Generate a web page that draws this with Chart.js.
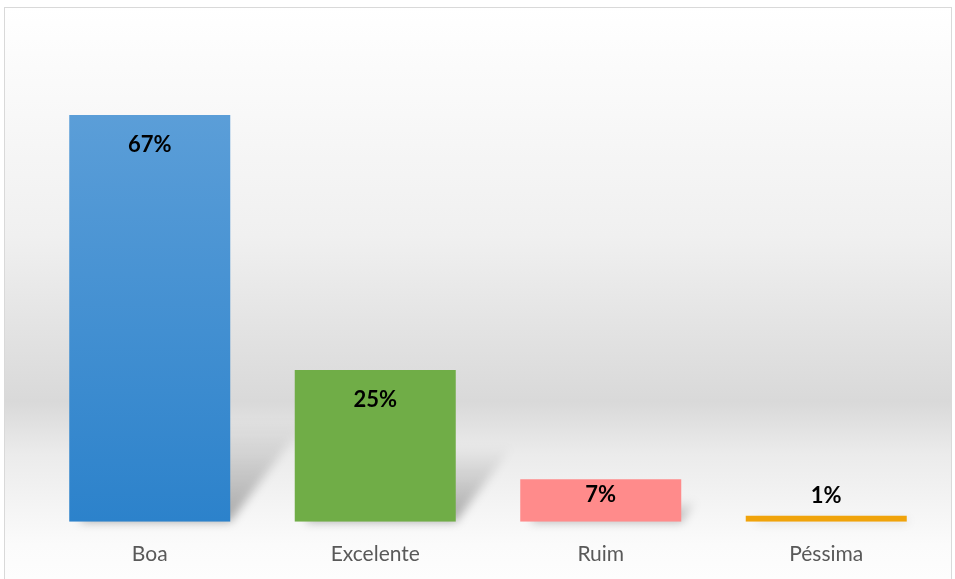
<!DOCTYPE html>
<html>
<head>
<meta charset="utf-8">
<script src="https://cdn.jsdelivr.net/npm/chart.js@4/dist/chart.umd.min.js"></script>
<style>
html,body{margin:0;padding:0;background:#fff;}
#wrap{position:absolute;left:0;top:0;width:955px;height:579px;}
</style>
</head>
<body>
<div id="wrap"><canvas id="c" width="955" height="579"></canvas></div>
<script>
const categories = ["Boa", "Excelente", "Ruim", "Péssima"];
const values = [67, 25, 7, 1];
const valueLabels = ["67%", "25%", "7%", "1%"];

const bgPlugin = {
  id: 'bg',
  beforeDraw(chart) {
    const ctx = chart.ctx;
    ctx.save();
    const g = ctx.createLinearGradient(0, 7, 0, 579);
    g.addColorStop(0, '#ffffff');
    g.addColorStop(0.08, '#fcfcfc');
    g.addColorStop(0.4, '#f0f0f0');
    g.addColorStop(0.6, '#e0e0e0');
    g.addColorStop(0.69, '#d9d9d9');
    g.addColorStop(0.78, '#ebebeb');
    g.addColorStop(0.9, '#f7f7f7');
    g.addColorStop(0.94, '#fbfbfb');
    g.addColorStop(1, '#fdfdfd');
    ctx.fillStyle = g;
    ctx.fillRect(4, 7, 948, 580);
    ctx.strokeStyle = '#d9d9d9';
    ctx.lineWidth = 1;
    ctx.strokeRect(4.5, 7.5, 947, 590);
    ctx.restore();
  },
  beforeDatasetsDraw(chart) {
    const ctx = chart.ctx;
    const meta = chart.getDatasetMeta(0);
    ctx.save();
    meta.data.forEach((bar) => {
      const left = bar.x - bar.width / 2;
      const right = bar.x + bar.width / 2;
      const base = bar.base;
      const h = base - bar.y;
      const sh = Math.min(h * 0.5, 100);
      const dx = sh * 0.75;
      if (sh < 3) return;
      ctx.filter = 'blur(5px)';
      const g = ctx.createLinearGradient(0, base, 0, base - sh);
      g.addColorStop(0, 'rgba(0,0,0,0.32)');
      g.addColorStop(1, 'rgba(0,0,0,0.0)');
      ctx.fillStyle = g;
      ctx.beginPath();
      ctx.moveTo(left + 10, base);
      ctx.lineTo(right, base);
      ctx.lineTo(right + dx, base - sh);
      ctx.lineTo(left + 10 + dx, base - sh);
      ctx.closePath();
      ctx.fill();
    });
    ctx.restore();
  },
  afterDatasetsDraw(chart) {
    const ctx = chart.ctx;
    const meta = chart.getDatasetMeta(0);
    ctx.save();
    ctx.font = 'bold 22px Lato';
    ctx.fillStyle = '#000000';
    ctx.textAlign = 'center';
    ctx.textBaseline = 'middle';
    meta.data.forEach((bar, i) => {
      const h = bar.base - bar.y;
      let y;
      if (h > 60) y = bar.y + 30;
      else if (h > 25) y = bar.y + 16;
      else y = bar.y - 20;
      ctx.fillText(valueLabels[i], bar.x, y);
    });
    ctx.restore();
  }
};

const ctx = document.getElementById('c').getContext('2d');
const blueGrad = ctx.createLinearGradient(0, 115, 0, 521);
blueGrad.addColorStop(0, '#5b9ed8');
blueGrad.addColorStop(1, '#2c82cb');

new Chart(ctx, {
  type: 'bar',
  data: {
    labels: categories,
    datasets: [{
      data: values,
      backgroundColor: [blueGrad, '#70ad47', '#ff8b8b', '#f0a30a'],
      borderWidth: 0,
      categoryPercentage: 1.0,
      barPercentage: 0.714
    }]
  },
  options: {
    responsive: false,
    animation: false,
    devicePixelRatio: 1,
    layout: { padding: { left: 37, right: 16, top: 36, bottom: 0 } },
    plugins: { legend: { display: false }, tooltip: { enabled: false } },
    scales: {
      y: { display: false, min: 0, max: 80 },
      x: {
        grid: { display: false },
        border: { display: false },
        ticks: { color: '#595959', font: { family: 'Lato', size: 21 }, padding: 12 }
      }
    }
  },
  plugins: [bgPlugin]
});
</script>
</body>
</html>
